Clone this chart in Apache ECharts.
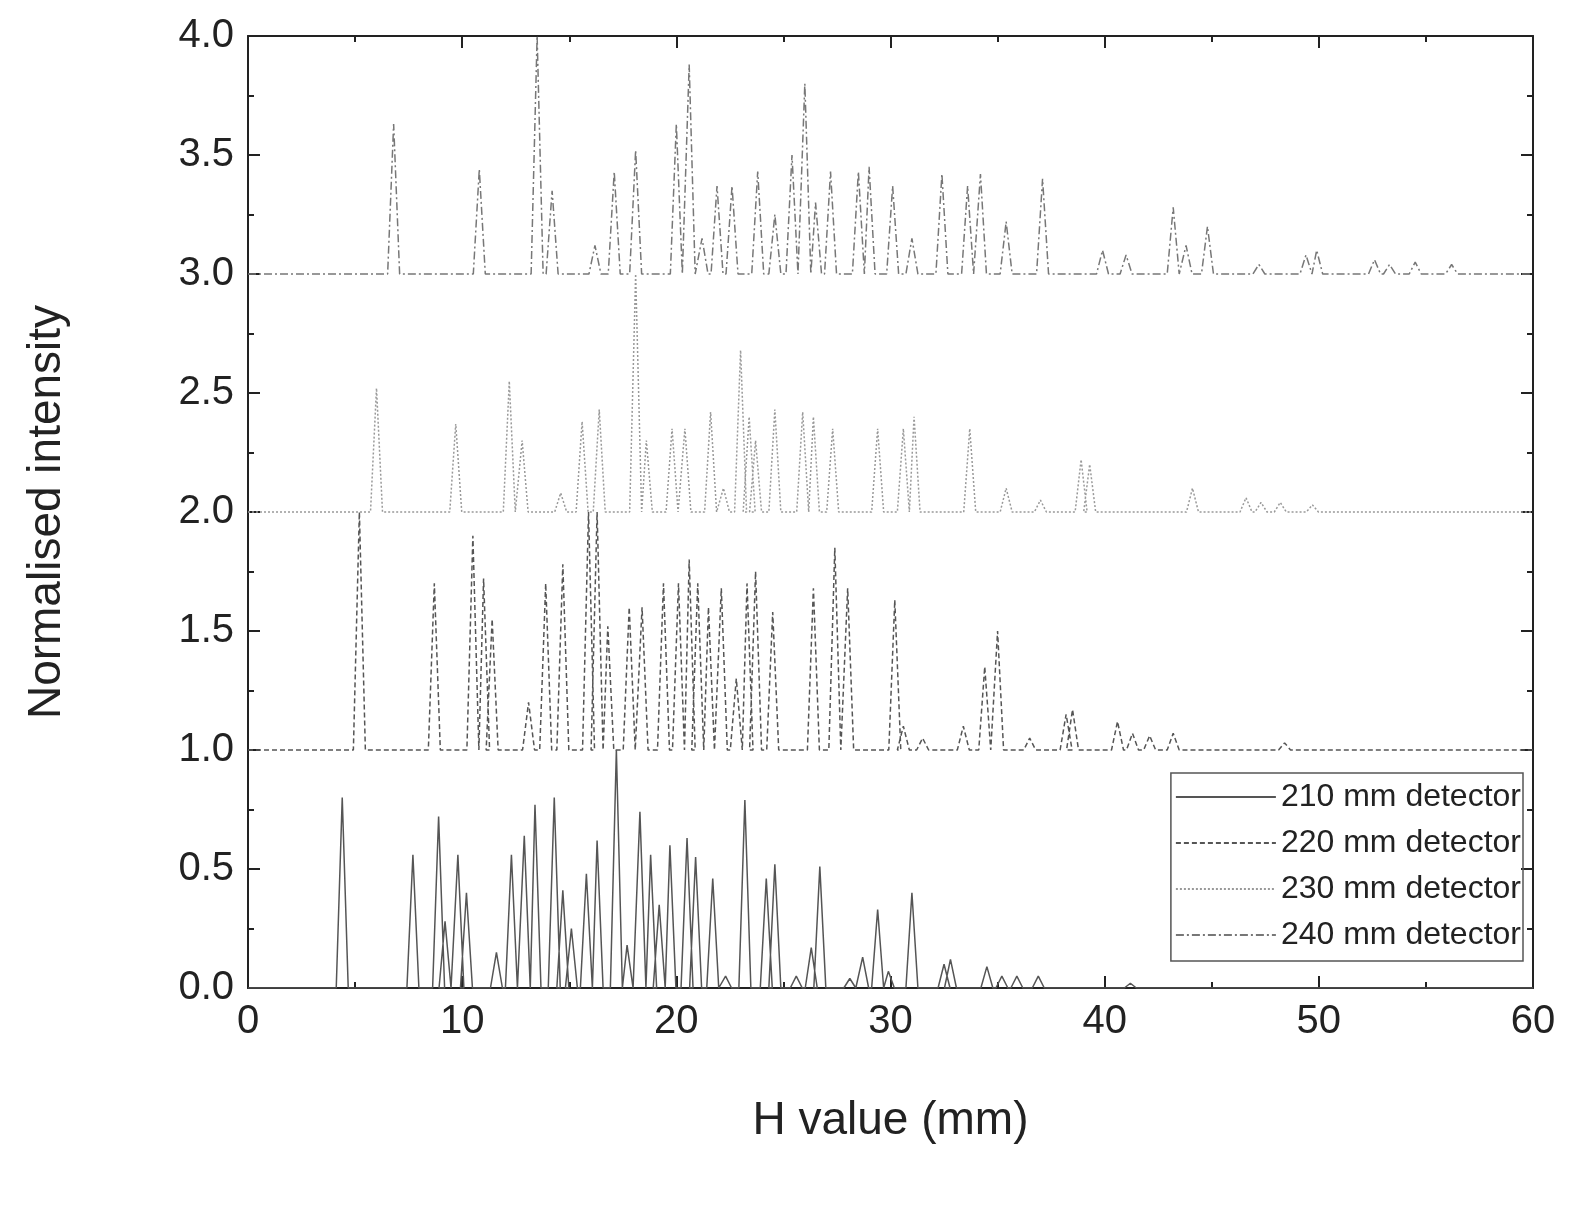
<!DOCTYPE html>
<html>
<head>
<meta charset="utf-8">
<script src="https://cdn.jsdelivr.net/npm/echarts@6/dist/echarts.min.js"></script>
<style>html,body{margin:0;background:#fff}#chart{width:1595px;height:1209px}</style>
</head>
<body>
<div id="chart"></div>
<script type="text/javascript">
	// peaks: [H value, intensity at the peak top]
	var peaks210 = [[4.4,0.8],[7.7,0.56],[8.9,0.72],[9.2,0.28],[9.8,0.56],[10.2,0.4],[11.6,0.15],[12.3,0.56],[12.9,0.64],[13.4,0.77],[14.3,0.8],[14.7,0.41],[15.1,0.25],[15.8,0.48],[16.3,0.62],[17.2,1.0],[17.7,0.18],[18.3,0.74],[18.8,0.56],[19.2,0.35],[19.7,0.6],[20.5,0.63],[20.9,0.55],[21.7,0.46],[22.3,0.05],[23.2,0.79],[24.2,0.46],[24.6,0.52],[25.6,0.05],[26.3,0.17],[26.7,0.51],[28.1,0.04],[28.7,0.13],[29.4,0.33],[29.9,0.07],[31.0,0.4],[32.5,0.1],[32.8,0.12],[34.5,0.09],[35.2,0.05],[35.9,0.05],[36.9,0.05],[41.2,0.02]];
	var peaks220 = [[5.2,2.0],[8.7,1.7],[10.5,1.9],[11.0,1.72],[11.4,1.55],[13.1,1.2],[13.9,1.7],[14.7,1.78],[15.9,2.0],[16.3,2.0],[16.8,1.52],[17.8,1.6],[18.4,1.6],[19.4,1.7],[20.1,1.7],[20.6,1.8],[21.0,1.7],[21.5,1.6],[22.1,1.68],[22.8,1.3],[23.3,1.7],[23.7,1.75],[24.5,1.58],[26.4,1.68],[27.4,1.85],[28.0,1.68],[30.2,1.63],[30.6,1.1],[31.5,1.05],[33.4,1.1],[34.4,1.35],[35.0,1.5],[36.5,1.05],[38.2,1.15],[38.5,1.17],[40.6,1.12],[41.3,1.07],[42.1,1.06],[43.2,1.07],[48.4,1.03]];
	var peaks230 = [[6.0,2.52],[9.7,2.37],[12.2,2.55],[12.8,2.3],[14.6,2.08],[15.6,2.38],[16.4,2.43],[18.1,3.0],[18.6,2.3],[19.8,2.35],[20.4,2.35],[21.6,2.42],[22.2,2.1],[23.0,2.68],[23.4,2.4],[23.7,2.3],[24.6,2.43],[25.9,2.42],[26.4,2.4],[27.3,2.35],[29.4,2.35],[30.6,2.35],[31.1,2.4],[33.7,2.35],[35.4,2.1],[37.0,2.05],[38.9,2.22],[39.3,2.2],[44.1,2.1],[46.6,2.06],[47.3,2.04],[48.2,2.04],[49.7,2.03]];
	var peaks240 = [[6.8,3.63],[10.8,3.44],[13.5,4.0],[14.2,3.35],[16.2,3.12],[17.1,3.43],[18.1,3.52],[20.0,3.63],[20.6,3.88],[21.2,3.15],[21.9,3.37],[22.6,3.37],[23.8,3.43],[24.6,3.25],[25.4,3.5],[26.0,3.8],[26.5,3.3],[27.2,3.43],[28.5,3.43],[29.0,3.45],[30.1,3.37],[31.0,3.15],[32.4,3.42],[33.6,3.37],[34.2,3.42],[35.4,3.22],[37.1,3.4],[39.9,3.1],[41.0,3.08],[43.2,3.28],[43.8,3.12],[44.8,3.2],[47.2,3.04],[49.4,3.08],[49.9,3.1],[52.6,3.06],[53.3,3.04],[54.5,3.05],[56.2,3.04]];
	var names = ['210 mm detector','220 mm detector','230 mm detector','240 mm detector'];
	var baselines = [0, 1, 2, 3];

	function trace(peaks, base){
		var pts = [[0, base]];
		peaks.forEach(function(p){
			pts.push([p[0]-0.28, base], [p[0], p[1]], [p[0]+0.28, base]);
		});
		pts.push([60, base]);
		return pts;
	}

	var font = 'Liberation Sans';
	var chart = echarts.init(document.getElementById('chart'));
	var styles = [
		{type:'solid', color:'#555', width:1.5},
		{type:[5,3], color:'#555', width:1.5},
		{type:[2,2], color:'#999', width:1.5},
		{type:[8,3,2,3], color:'#777', width:1.5}
	];
	var all = [peaks210, peaks220, peaks230, peaks240];
	function axisBits(show){
		return {
			axisLine:{show:true, onZero:false, lineStyle:{color:'#222', width:2}},
			axisTick:{show:true, inside:true, length:12, lineStyle:{color:'#222', width:2}},
			minorTick:{show:true, splitNumber:2, length:6, lineStyle:{color:'#222', width:2}},
			splitLine:{show:false},
			axisLabel:{show:show, fontFamily:font, fontSize:40, color:'#222', margin:14}
		};
	}
	var x0 = Object.assign({type:'value', position:'bottom', min:0, max:60, interval:10,
		name:'H value (mm)', nameLocation:'middle', nameGap:110,
		nameTextStyle:{fontFamily:font, fontSize:46, color:'#222'}}, axisBits(true));
	var x1 = Object.assign({type:'value', position:'top', min:0, max:60, interval:10}, axisBits(false));
	var y0 = Object.assign({type:'value', position:'left', min:0, max:4, interval:0.5,
		name:'Normalised intensity', nameLocation:'middle', nameGap:178,
		nameTextStyle:{fontFamily:font, fontSize:46, color:'#222'}}, axisBits(true));
	y0.axisLabel.formatter = function(v){return v.toFixed(1);};
	var y1 = Object.assign({type:'value', position:'right', min:0, max:4, interval:0.5}, axisBits(false));

	chart.setOption({
		animation: false,
		grid: {left: 248, right: 62, top: 36, bottom: 221},
		legend: {
			orient: 'vertical', right: 72, top: 773,
			itemWidth: 100, itemHeight: 12, itemGap: 14,
			borderColor: '#555', borderWidth: 1.5, padding: [8, 2, 10, 4],
			itemStyle: {opacity: 0},
			textStyle: {fontFamily: font, fontSize: 32, color: '#222'},
			data: names
		},
		xAxis: [x0, x1],
		yAxis: [y0, y1],
		series: all.map(function(pk, i){
			return {name:names[i], type:'line', symbol:'none',
				data: trace(pk, baselines[i]), lineStyle: styles[i], itemStyle:{color:styles[i].color}};
		}).concat([
			{type:'line', xAxisIndex:1, yAxisIndex:1, data:[], silent:true}
		])
	});
</script>
</body>
</html>
